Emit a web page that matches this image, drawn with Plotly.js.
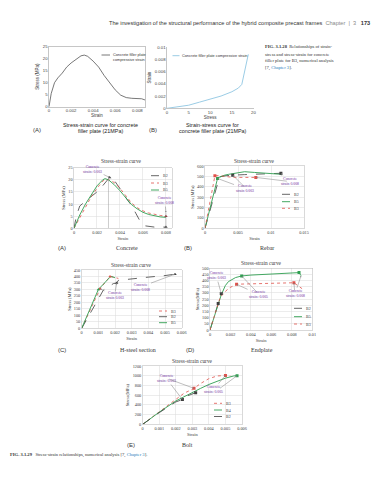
<!DOCTYPE html>
<html><head><meta charset="utf-8">
<script src="https://cdn.plot.ly/plotly-3.0.1.min.js"></script>
<style>html,body{margin:0;padding:0;background:#fff}#chart{width:375px;height:480px}</style>
</head><body><div id="chart"></div><script>
// ---------- DATA ----------
// Fig 3.1.28 (A) stress-strain, concrete filler plate
const topA_strain = [0,0.0002,0.0005,0.0008,0.0012,0.0016,0.002,0.0025,0.0029,0.0032,0.0035,0.004,0.0045,0.005,0.0055,0.006,0.0065,0.007,0.0075,0.008,0.0084,0.0087];
const topA_stress = [0,5.5,10,12,14,16.5,18.2,20,21.2,21.5,21,19,16.5,13,9.8,7,4.8,3.8,3.5,3.4,3.3,2.8];
// Fig 3.1.28 (B) strain-stress
const topB_stress = [0,2.5,5,7.5,10,12.5,15,16.5,17.3,17.8,18.3,18.8];
const topB_strain = [0,0.0002,0.0005,0.001,0.0015,0.002,0.0027,0.0033,0.0039,0.0055,0.0072,0.0088];
// Fig 3.1.29 (A) Concrete
const conc_B2_strain = [0,0.0002,0.0005,0.0008,0.0012,0.0016,0.002,0.0024,0.0028,0.0031,0.0034,0.0038,0.0042,0.0046,0.005,0.0054,0.0058,0.0062,0.0066,0.007,0.0075,0.008];
const conc_B2_stress = [0,5,9.2,10.5,12,13.5,15,17,19.5,21,20.5,18,15,12,9.5,6,2.5,1,0.6,0.5,0.5,0.5];
const conc_B3_strain = [0,0.0005,0.001,0.0015,0.002,0.0025,0.0028,0.0032,0.0036,0.004,0.0045,0.005,0.0055,0.006,0.0065,0.007,0.0075,0.008];
const conc_B3_stress = [0,4.5,9,13,16.5,19.5,20.2,19.8,18.5,16.5,13.5,10.5,8.5,7.2,6.3,5.7,5.3,5];
const conc_B5_strain = [0,0.0005,0.001,0.0015,0.002,0.0025,0.0027,0.003,0.0035,0.004,0.0045,0.005,0.0055,0.006,0.0065,0.007,0.0075,0.008];
const conc_B5_stress = [0,5.5,10,14,17.5,20,20.5,20,18,15.5,12.5,9.8,8,6.6,5.7,5.1,4.7,4.5];
const conc_noteStrain = [0.003, 0.008];
// (B) Rebar
const rebar_B2_strain = [0,0.0022,0.003,0.0038,0.0042,0.006,0.008,0.01,0.0115,0.0116];
const rebar_B2_stress = [0,495,505,505,512,517,522,527,530,500];
const rebar_B5_strain = [0,0.0019,0.0021,0.0026,0.003,0.0036,0.0045,0.006,0.0075,0.009,0.0105,0.0116];
const rebar_B5_stress = [0,480,490,505,512,520,530,545,538,530,525,520];
const rebar_B3_strain = [0,0.0015,0.002,0.0025,0.003,0.0035,0.004,0.005,0.006,0.0077];
const rebar_B3_stress = [0,505,508,503,500,495,492,490,490,490];
// (C) H-steel section
const hsec_B3_strain = [0,0.0005,0.0011,0.0017,0.002,0.0022];
const hsec_B3_stress = [0,140,305,400,392,385];
const hsec_B2_strain = [0,0.0006,0.0013,0.0019,0.0021,0.0022,0.003,0.004,0.005,0.0056];
const hsec_B2_stress = [0,140,295,345,350,370,383,395,407,418];
const hsec_B5_strain = [0,0.0005,0.001,0.0017,0.0018,0.002];
const hsec_B5_stress = [0,150,300,395,400,390];
// (D) Endplate
const endp_B2_strain = [0,0.0004,0.0008,0.0009,0.0011];
const endp_B2_stress = [0,105,215,225,295];
const endp_B5_strain = [0,0.0005,0.0011,0.0015,0.0018,0.0025,0.0031,0.004,0.005,0.006,0.007,0.008,0.0087,0.0089];
const endp_B5_stress = [0,130,285,360,392,425,438,445,450,455,458,462,465,440];
const endp_B3_strain = [0,0.0005,0.001,0.0018,0.0026,0.003,0.004,0.005,0.006,0.007,0.0082,0.009];
const endp_B3_stress = [0,130,265,338,370,372,375,377,379,381,383,335];
// (E) Bolt
const bolt_B3_strain = [0,0.001,0.002,0.0025,0.003,0.0031,0.0035,0.004,0.0045,0.005,0.0053];
const bolt_B3_stress = [0,260,520,640,720,740,840,940,995,1005,990];
const bolt_B4_strain = [0,0.001,0.002,0.0025,0.003,0.0035,0.004,0.0045,0.005,0.0055,0.0057];
const bolt_B4_stress = [0,250,480,570,660,740,820,890,950,995,1000];
const bolt_B2_strain = [0,0.001,0.002,0.0024,0.0025,0.003,0.0032];
const bolt_B2_stress = [0,240,460,510,560,625,650];

// ---------- STYLE / LAYOUT HELPERS ----------
const W = 375, H = 480;
const PX = x => x / W, PY = y => 1 - y / H;
const SANS = 'Liberation Sans, Arial, sans-serif';
const SERIF = 'Liberation Serif, Times New Roman, serif';
const C_B2 = '#3f3f3f', C_B3 = '#e0504a', C_B5 = '#2f9e50', PURP = '#7030a0';
const L_B2 = {color: C_B2, width: 0.8, dash: 'dash'};
const L_B3 = {color: C_B3, width: 0.8, dash: 'dot'};
const L_B5 = {color: C_B5, width: 0.9};

function xax(x0, x1, anchor, range, dtick, fam, title, grid) {
  return {domain: [PX(x0), PX(x1)], anchor, range, dtick, tick0: 0, showgrid: grid, gridcolor: '#dadada', gridwidth: 0.5,
    zeroline: false, showline: true, linecolor: '#bfbfbf', linewidth: 0.6, mirror: true, ticks: '',
    tickfont: {family: fam, size: 4.3, color: '#404040'}, automargin: false, fixedrange: true,
    title: {text: title, font: {family: fam, size: 4.5, color: '#404040'}, standoff: 2}};
}
function yax(y0, y1, anchor, range, dtick, fam, title, grid) {
  return {domain: [PY(y1), PY(y0)], anchor, range, dtick, tick0: 0, showgrid: grid, gridcolor: '#dadada', gridwidth: 0.5,
    zeroline: false, showline: true, linecolor: '#bfbfbf', linewidth: 0.6, mirror: true, ticks: '',
    tickfont: {family: fam, size: 4.3, color: '#404040'}, automargin: false, fixedrange: true,
    title: {text: title, font: {family: fam, size: 4.5, color: '#404040'}, standoff: 2}};
}
function line(x, y, xa, ya, ln, name) {
  return {type: 'scatter', mode: 'lines', x, y, xaxis: xa, yaxis: ya, line: ln, name, showlegend: false, hoverinfo: 'skip'};
}
function mk(xs, ys, xa, ya, color, sym) {
  return {type: 'scatter', mode: 'markers', x: xs, y: ys, xaxis: xa, yaxis: ya, showlegend: false, hoverinfo: 'skip',
    marker: {color, size: 3, symbol: sym || 'triangle-up'}};
}

const traces = [
  line(topA_strain, topA_stress, 'x', 'y', {color: '#555', width: 0.8}, 'Concrete filler plate compressive strain'),
  line(topB_stress, topB_strain, 'x2', 'y2', {color: '#8ec6e2', width: 0.9}, 'Concrete filler plate compressive strain'),

  line(conc_B2_strain, conc_B2_stress, 'x3', 'y3', L_B2, 'B2'),
  line(conc_B3_strain, conc_B3_stress, 'x3', 'y3', L_B3, 'B3'),
  line(conc_B5_strain, conc_B5_stress, 'x3', 'y3', L_B5, 'B5'),
  mk([conc_B2_strain[9], conc_B2_strain[21]], [conc_B2_stress[9], conc_B2_stress[21]], 'x3', 'y3', C_B2),
  mk([conc_B3_strain[17]], [conc_B3_stress[17]], 'x3', 'y3', '#8a3030'),

  line(rebar_B2_strain, rebar_B2_stress, 'x4', 'y4', L_B2, 'B2'),
  line(rebar_B5_strain, rebar_B5_stress, 'x4', 'y4', L_B5, 'B5'),
  line(rebar_B3_strain, rebar_B3_stress, 'x4', 'y4', L_B3, 'B3'),
  mk([rebar_B2_strain[4], rebar_B2_strain[8]], [rebar_B2_stress[4], rebar_B2_stress[8]], 'x4', 'y4', C_B2, 'square'),
  mk([rebar_B5_strain[1]], [rebar_B5_stress[1]], 'x4', 'y4', C_B5, 'square'),
  mk([rebar_B3_strain[1], rebar_B3_strain[9]], [rebar_B3_stress[1], rebar_B3_stress[9]], 'x4', 'y4', C_B3, 'square'),

  line(hsec_B3_strain, hsec_B3_stress, 'x5', 'y5', L_B3, 'B3'),
  line(hsec_B2_strain, hsec_B2_stress, 'x5', 'y5', L_B2, 'B2'),
  line(hsec_B5_strain, hsec_B5_stress, 'x5', 'y5', L_B5, 'B5'),
  mk([hsec_B2_strain[4], hsec_B2_strain[9]], [hsec_B2_stress[4], hsec_B2_stress[9]], 'x5', 'y5', C_B2),
  mk([hsec_B3_strain[2], hsec_B3_strain[3]], [hsec_B3_stress[2], hsec_B3_stress[3]], 'x5', 'y5', C_B3),
  mk([hsec_B5_strain[2]], [hsec_B5_stress[2]], 'x5', 'y5', C_B5),

  line(endp_B2_strain, endp_B2_stress, 'x6', 'y6', L_B2, 'B2'),
  line(endp_B5_strain, endp_B5_stress, 'x6', 'y6', L_B5, 'B5'),
  line(endp_B3_strain, endp_B3_stress, 'x6', 'y6', L_B3, 'B3'),
  mk([endp_B2_strain[2], endp_B2_strain[4]], [endp_B2_stress[2], endp_B2_stress[4]], 'x6', 'y6', C_B2, 'square'),
  mk([endp_B5_strain[6], endp_B5_strain[12]], [endp_B5_stress[6], endp_B5_stress[12]], 'x6', 'y6', C_B5, 'square'),
  mk([endp_B3_strain[4], endp_B3_strain[10]], [endp_B3_stress[4], endp_B3_stress[10]], 'x6', 'y6', C_B3, 'square'),

  line(bolt_B3_strain, bolt_B3_stress, 'x7', 'y7', L_B3, 'B3'),
  line(bolt_B4_strain, bolt_B4_stress, 'x7', 'y7', L_B5, 'B4'),
  line(bolt_B2_strain, bolt_B2_stress, 'x7', 'y7', L_B2, 'B2'),
  mk([bolt_B3_strain[5], bolt_B3_strain[9]], [bolt_B3_stress[5], bolt_B3_stress[9]], 'x7', 'y7', C_B3, 'square'),
  mk([bolt_B4_strain[10]], [bolt_B4_stress[10]], 'x7', 'y7', C_B5, 'square'),
  mk([bolt_B2_strain[3], bolt_B2_strain[6]], [bolt_B2_stress[3], bolt_B2_stress[6]], 'x7', 'y7', C_B2, 'square')
];

// ---------- ANNOTATIONS ----------
const ann = [];
function T(x, y, text, size, fam, color, xanchor, extra) {
  ann.push(Object.assign({xref: 'paper', yref: 'paper', x: PX(x), y: PY(y), text, showarrow: false,
    font: {family: fam, size, color: color || '#333'}, xanchor: xanchor || 'center', yanchor: 'middle'}, extra || {}));
}
function A(xa, ya, x, y, axo, ayo, text) {
  ann.push({xref: xa, yref: ya, x, y, ax: axo, ay: ayo, text, showarrow: true, arrowhead: 2, arrowsize: 0.6,
    arrowwidth: 0.5, arrowcolor: '#7f7f7f', font: {family: SERIF, size: 3.8, color: PURP}, align: 'center'});
}
// header
T(372, 23, 'The investigation of the structural performance of the hybrid composite precast frames&nbsp;&nbsp;<span style="color:#888">Chapter&nbsp;&nbsp;|&nbsp;&nbsp;3</span>&nbsp;&nbsp;&nbsp;<b>173</b>', 5.6, SANS, '#333', 'right');
// figure 3.1.28 caption
T(263, 47, '<b>FIG. 3.1.28</b>&nbsp;&nbsp;Relationships of strain-', 4.6, SERIF, '#333', 'left');
T(263, 54, 'stress and stress-strain for concrete', 4.6, SERIF, '#333', 'left');
T(263, 61, 'filler plate for B3, numerical analysis', 4.6, SERIF, '#333', 'left');
T(263, 68, '[7, <span style="color:#2a7fc0">Chapter 3</span>].', 4.6, SERIF, '#333', 'left');
// top chart labels
T(37, 129.5, '(A)', 6, SANS, '#333');
T(100, 125, 'Stress-strain curve for concrete', 5.4, SANS, '#222');
T(100, 130.7, 'filler plate (21MPa)', 5.4, SANS, '#222');
T(153, 129.5, '(B)', 6, SANS, '#333');
T(213, 125, 'Strain-stress curve for', 5.4, SANS, '#222');
T(213, 130.7, 'concrete filler plate (21MPa)', 5.4, SANS, '#222');
T(110.5, 55, 'Concrete filler plate', 3.8, SANS, '#333', 'left');
T(110.5, 60.5, 'compressive strain', 3.8, SANS, '#333', 'left');
T(180, 55.7, 'Concrete filler plate compressive strain', 3.8, SANS, '#333', 'left');
// middle/bottom chart titles
T(122, 160.7, 'Stress-strain curve', 5.4, SERIF, '#404040');
T(254, 160.7, 'Stress-strain curve', 5.4, SERIF, '#404040');
T(131, 264.5, 'Stress-strain curve', 5.4, SERIF, '#404040');
T(261, 263.3, 'Stress-strain curve', 5.4, SERIF, '#404040');
T(192, 361, 'Stress-strain curve', 5.4, SERIF, '#404040');
// panel labels
T(62, 248, '(A)', 6, SANS, '#333'); T(127, 248, 'Concrete', 6, SERIF, '#333');
T(188, 248, '(B)', 6, SANS, '#333'); T(267, 248, 'Rebar', 6, SERIF, '#333');
T(62, 350, '(C)', 6, SANS, '#333'); T(138, 350, 'H-steel section', 6, SERIF, '#333');
T(190, 350, '(D)', 6, SANS, '#333'); T(262, 350, 'Endplate', 6, SERIF, '#333');
T(131, 444.5, '(E)', 6, SANS, '#333'); T(187, 444.5, 'Bolt', 6, SERIF, '#333');
// bottom caption
T(8, 455, '<b>FIG. 3.1.29</b>&nbsp;&nbsp;&nbsp;Stress-strain relationships, numerical analysis [7, <span style="color:#2a7fc0">Chapter 3</span>].', 4.6, SERIF, '#333', 'left');

// legends (custom, small)
const shapes = [];
function LG(x, y, ln, label) {
  shapes.push({type: 'line', xref: 'paper', yref: 'paper', x0: PX(x), x1: PX(x + 8), y0: PY(y), y1: PY(y),
    line: {color: ln.color, width: ln.width, dash: ln.dash || 'solid'}});
  T(x + 9.5, y, label, 4, SERIF, '#404040', 'left');
}
shapes.push({type: 'line', xref: 'paper', yref: 'paper', x0: PX(101.5), x1: PX(110), y0: PY(55), y1: PY(55), line: {color: '#555', width: 0.8}});
shapes.push({type: 'line', xref: 'paper', yref: 'paper', x0: PX(172.5), x1: PX(179.5), y0: PY(55.7), y1: PY(55.7), line: {color: '#8ec6e2', width: 0.9}});
LG(151, 175.7, L_B2, 'B2'); LG(151, 183, L_B3, 'B3'); LG(151, 190, L_B5, 'B5');
LG(282, 194.3, L_B2, 'B2'); LG(282, 201.7, L_B5, 'B5'); LG(282, 208.3, L_B3, 'B3');
LG(159, 311, L_B3, 'B3'); LG(159, 316.7, L_B2, 'B2'); LG(159, 322.7, L_B5, 'B5');
LG(294, 308.3, L_B2, 'B2'); LG(294, 316.7, L_B5, 'B5'); LG(294, 324, L_B3, 'B3');
LG(214, 403.3, L_B3, 'B3'); LG(214, 410, L_B5, 'B4'); LG(214, 416.5, L_B2, 'B2');

// reference lines (concrete)
shapes.push({type: 'line', xref: 'x3', yref: 'y3', x0: conc_noteStrain[0], x1: conc_noteStrain[0], y0: 0, y1: 21, line: {color: '#9a9a9a', width: 0.5}});
shapes.push({type: 'line', xref: 'x3', yref: 'y3', x0: conc_noteStrain[1], x1: conc_noteStrain[1], y0: 0, y1: 6.5, line: {color: '#9a9a9a', width: 0.5}});

// arrow notes
A('x3', 'y3', conc_B2_strain[9], conc_B2_stress[9], -17, -8, 'Concrete<br>strain: 0.003');
A('x3', 'y3', conc_B3_strain[17], conc_B3_stress[17] + 1.5, -1, -12, 'Concrete<br>strain: 0.008');
A('x4', 'y4', rebar_B5_strain[1], rebar_B5_stress[1], 27, 10, 'Concrete<br>strain 0.003');
A('x4', 'y4', rebar_B2_strain[4], rebar_B2_stress[4], 13, 13, ' ');
A('x4', 'y4', rebar_B2_strain[8], rebar_B2_stress[8], 9, 8, 'Concrete<br>strain 0.008');
A('x4', 'y4', rebar_B3_strain[9], rebar_B3_stress[9], 33, 4, ' ');
A('x5', 'y5', hsec_B3_strain[2], hsec_B3_stress[2], 15, 7, 'Concrete<br>strain 0.003');
A('x5', 'y5', hsec_B2_strain[4], hsec_B2_stress[4], -2, 12, ' ');
A('x5', 'y5', hsec_B2_strain[9], hsec_B2_stress[9], -35, 13, 'Concrete<br>strain: 0.008');
A('x6', 'y6', endp_B2_strain[4], endp_B2_stress[4], -5, -18, 'Concrete<br>strain: 0.003');
A('x6', 'y6', endp_B3_strain[4], endp_B3_stress[4], 22, 10, 'Concrete<br>strain: 0.005');
A('x6', 'y6', endp_B5_strain[6], endp_B5_stress[6], 17, 18, ' ');
A('x6', 'y6', endp_B5_strain[13], endp_B5_stress[13], -6, 18, 'Concrete<br>strain: 0.008');
A('x6', 'y6', endp_B3_strain[10], endp_B3_stress[10], 1, 11, ' ');
A('x7', 'y7', bolt_B2_strain[3], bolt_B2_stress[3], -16, -21, 'Concrete<br>strain: 0.003');
A('x7', 'y7', bolt_B3_strain[5], bolt_B3_stress[5], -27, -10, ' ');
A('x7', 'y7', bolt_B3_strain[9], bolt_B3_stress[9], -12, 14, 'Concrete<br>strain: 0.005');
A('x7', 'y7', bolt_B4_strain[10], bolt_B4_stress[10], -19, 14, ' ');

// ---------- LAYOUT ----------
const layout = {
  width: W, height: H, margin: {l: 0, r: 0, t: 0, b: 0}, paper_bgcolor: '#fff', plot_bgcolor: '#fff', showlegend: false,
  xaxis: xax(49, 145, 'y', [0, 0.0087], 0.002, SANS, 'Strain', false),
  yaxis: yax(46.7, 106.7, 'x', [0, 25], 5, SANS, 'Stress (MPa)', false),
  xaxis2: xax(167, 253.5, 'y2', [0, 20], 5, SANS, 'Stress', false),
  yaxis2: yax(47, 108.3, 'x2', [0, 0.01], 0.002, SANS, 'Strain', false),
  xaxis3: xax(74, 171.7, 'y3', [0, 0.0085], 0.002, SERIF, 'Strain', true),
  yaxis3: yax(167.7, 228.3, 'x3', [0, 25], 5, SERIF, 'Stress (MPa)', true),
  xaxis4: xax(205, 304, 'y4', [0, 0.015], 0.005, SERIF, 'Strain', true),
  yaxis4: yax(166, 228.3, 'x4', [0, 600], 100, SERIF, 'Stress (MPa)', true),
  xaxis5: xax(81.7, 181.7, 'y5', [0, 0.006], 0.001, SERIF, 'Strain', true),
  yaxis5: yax(270, 328.3, 'x5', [0, 450], 50, SERIF, 'Stress (MPa)', true),
  xaxis6: xax(210, 312.3, 'y6', [0, 0.01], 0.002, SERIF, 'Strain', true),
  yaxis6: yax(268.3, 330, 'x6', [0, 500], 50, SERIF, 'Stress(MPa)', true),
  xaxis7: xax(142.7, 242, 'y7', [0, 0.006], 0.001, SERIF, 'Strain', true),
  yaxis7: yax(366, 424.3, 'x7', [0, 1200], 200, SERIF, 'Stress(MPa)', true),
  annotations: ann, shapes: shapes
};
layout.xaxis.linecolor = '#a0a0a0'; layout.yaxis.linecolor = '#a0a0a0';
layout.xaxis.title.standoff = 0.5; layout.xaxis2.title.standoff = 0.5;
layout.xaxis2.mirror = false; layout.yaxis2.mirror = false;
layout.xaxis2.linecolor = '#a0a0a0'; layout.yaxis2.linecolor = '#a0a0a0';

Plotly.newPlot('chart', traces, layout, {staticPlot: true, displayModeBar: false});
</script></body></html>
